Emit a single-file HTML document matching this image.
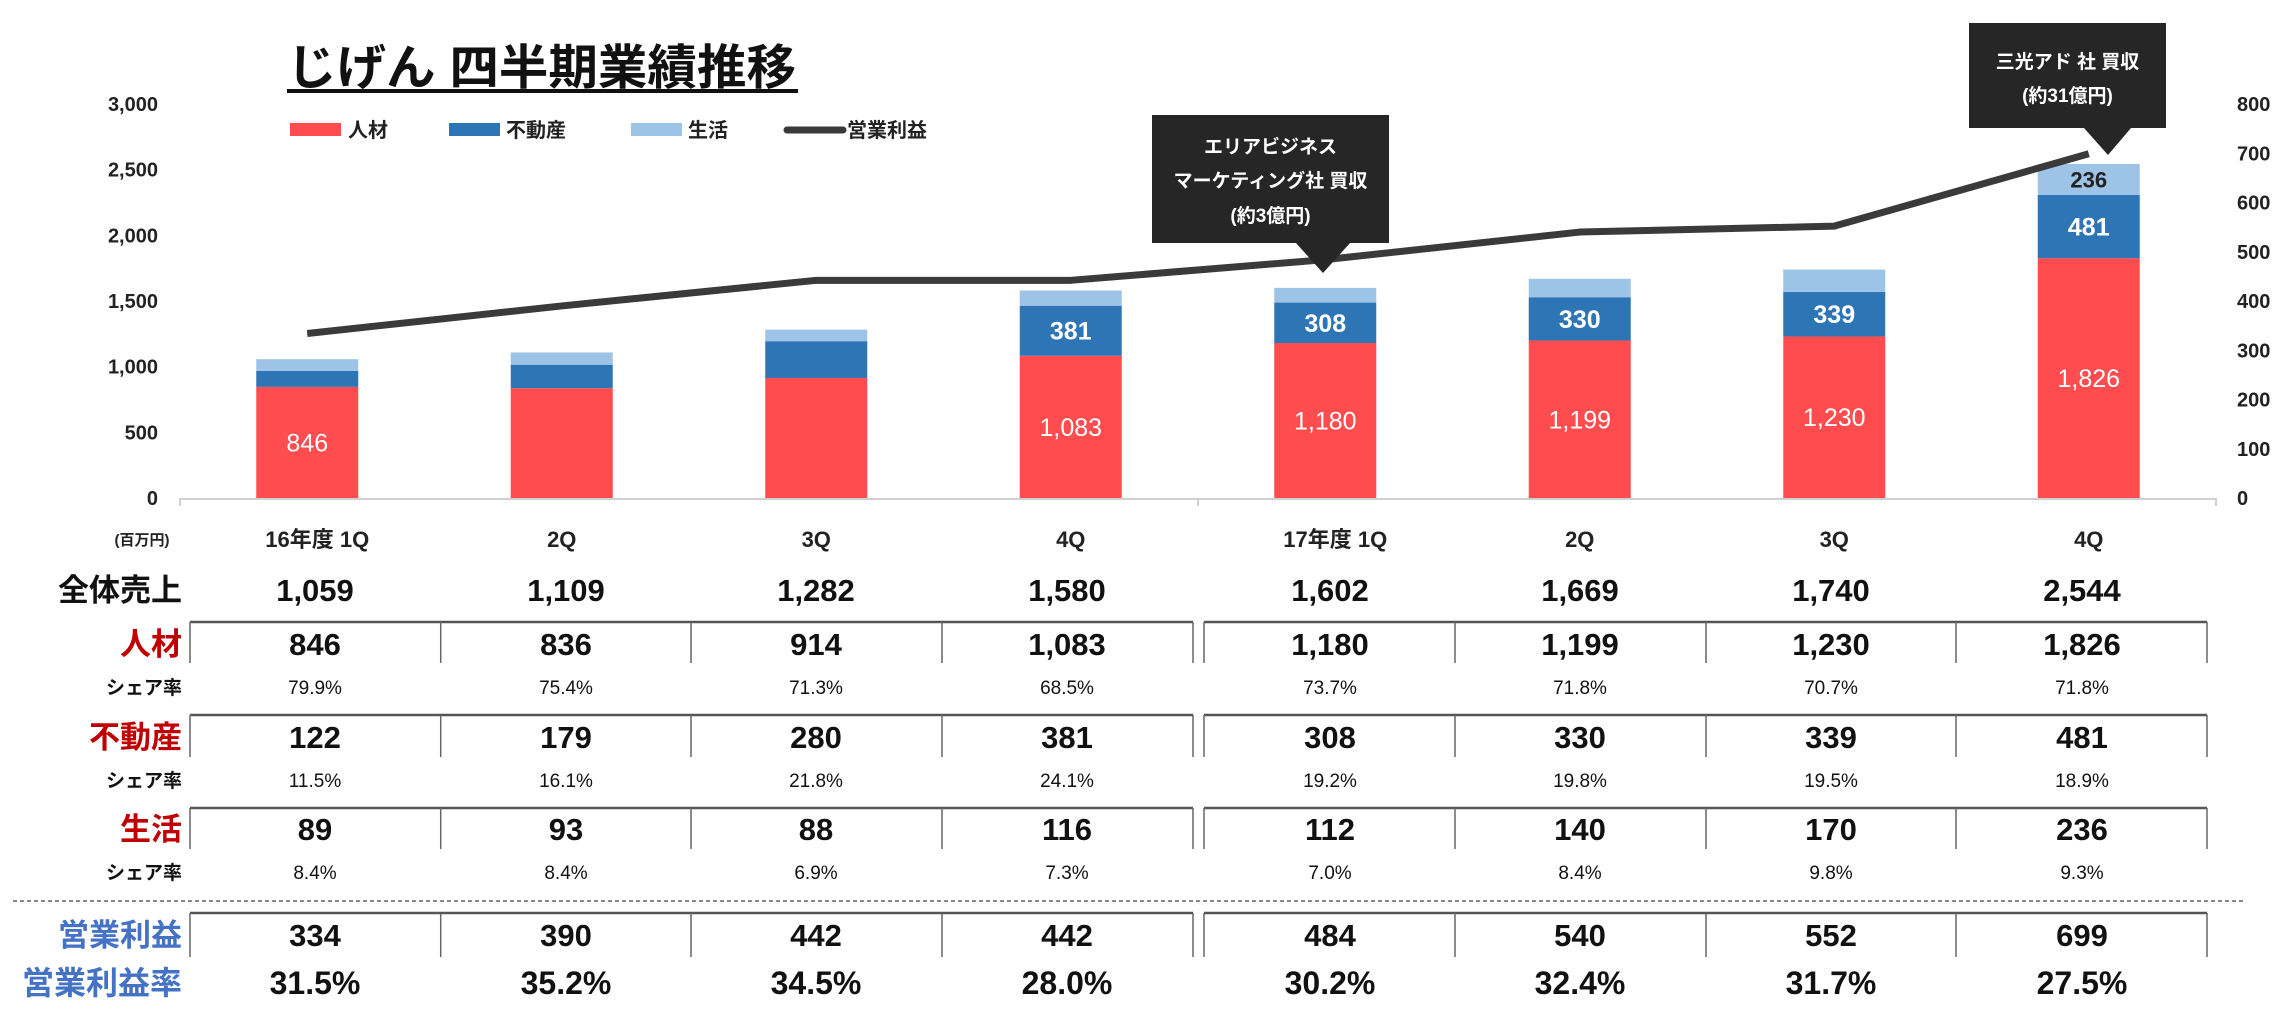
<!DOCTYPE html>
<html><head><meta charset="utf-8"><style>
body{margin:0;background:#fff;}
svg{display:block;font-family:"Liberation Sans","Noto Sans CJK JP",sans-serif;}
</style></head><body>
<svg id="chart" width="2294" height="1024" viewBox="0 0 2294 1024" xmlns="http://www.w3.org/2000/svg"></svg>
<script>
const categories = ["16年度 1Q","2Q","3Q","4Q","17年度 1Q","2Q","3Q","4Q"];
const jinzai = [846,836,914,1083,1180,1199,1230,1826];
const fudosan = [122,179,280,381,308,330,339,481];
const seikatsu = [89,93,88,116,112,140,170,236];
const profit = [334,390,442,442,484,540,552,699];
const totalSales = ["1,059","1,109","1,282","1,580","1,602","1,669","1,740","2,544"];
const jinzaiShare = ["79.9%","75.4%","71.3%","68.5%","73.7%","71.8%","70.7%","71.8%"];
const fudosanShare = ["11.5%","16.1%","21.8%","24.1%","19.2%","19.8%","19.5%","18.9%"];
const seikatsuShare = ["8.4%","8.4%","6.9%","7.3%","7.0%","8.4%","9.8%","9.3%"];
const profitRate = ["31.5%","35.2%","34.5%","28.0%","30.2%","32.4%","31.7%","27.5%"];
const leftTicks = [0,500,1000,1500,2000,2500,3000];
const rightTicks = [0,100,200,300,400,500,600,700,800];
const showRedLabel = [true,false,false,true,true,true,true,true];
const showBlueLabel = [false,false,false,true,true,true,true,true];
const showLightLabel = [false,false,false,false,false,false,false,true];

const svg = document.getElementById('chart');
const NS = 'http://www.w3.org/2000/svg';
function mk(tag, attrs, text){const e=document.createElementNS(NS,tag);for(const k in attrs)e.setAttribute(k,attrs[k]);if(text!==undefined)e.textContent=text;svg.appendChild(e);return e;}
const fmt = v => v.toLocaleString('en-US');

const Y0=498, YTOP=104, AX0=180, AX1=2216;
const yL = v => Y0 - v/3000*(Y0-YTOP);
const yR = v => Y0 - v/800*(Y0-YTOP);
const step = (AX1-AX0)/categories.length;
const xC = i => AX0 + step*(i+0.5);
const BW = 102;

// title
let t = mk('text',{x:287,y:84,'font-size':48,'font-weight':'bold',fill:'#111',textLength:509,lengthAdjust:'spacingAndGlyphs'},'じげん 四半期業績推移');


let u = mk('rect',{x:287,y:89,width:511,height:4,fill:'#111'});



// axes ticks
leftTicks.forEach(v=>{
  const e=mk('text',{x:158,y:yL(v)+7,'text-anchor':'end','font-size':20,'font-weight':'bold',fill:'#222'},fmt(v));
  
  
});
rightTicks.forEach(v=>{
  const e=mk('text',{x:2237,y:yR(v)+7,'font-size':20,'font-weight':'bold',fill:'#222'},fmt(v));
  
  
});
let ax = mk('line',{x1:AX0,y1:Y0+1,x2:AX1,y2:Y0+1,stroke:'#d0d0d0','stroke-width':2});


[0,4,8].forEach(k=>{
  const e=mk('line',{x1:AX0+step*k,y1:Y0,x2:AX0+step*k,y2:Y0+8,stroke:'#d0d0d0','stroke-width':2});
  
  
});
let unit = mk('text',{x:142,y:545,'text-anchor':'middle','font-size':15,'font-weight':'bold',fill:'#222'},'(百万円)');



// bars
categories.forEach((c,i)=>{
  const x=xC(i)-BW/2;
  const y1=yL(jinzai[i]), y2=yL(jinzai[i]+fudosan[i]), y3=yL(jinzai[i]+fudosan[i]+seikatsu[i]);
  let r=mk('rect',{x:x,y:y1,width:BW,height:Y0-y1,fill:'#FF4D4F'});
  
  
  r=mk('rect',{x:x,y:y2,width:BW,height:y1-y2,fill:'#2E75B6'});
  
  
  r=mk('rect',{x:x,y:y3,width:BW,height:y2-y3,fill:'#9DC3E6'});
  
  
  if(showRedLabel[i]){const e=mk('text',{x:xC(i),y:(Y0+y1)/2+9,'text-anchor':'middle','font-size':25,fill:'#fff'},fmt(jinzai[i]));
    
    }
  if(showBlueLabel[i]){const e=mk('text',{x:xC(i),y:(y1+y2)/2+9,'text-anchor':'middle','font-size':25,'font-weight':'bold',fill:'#fff'},fmt(fudosan[i]));
    
    }
  if(showLightLabel[i]){const e=mk('text',{x:xC(i),y:(y2+y3)/2+8,'text-anchor':'middle','font-size':22,'font-weight':'bold',fill:'#222'},fmt(seikatsu[i]));
    
    }
  const cl=mk('text',{x:xC(i)+(c.length>3?10:0),y:547,'text-anchor':'middle','font-size':22,'font-weight':'bold',fill:'#222'},c);
  
  
});

// profit line
let pts = profit.map((v,i)=>xC(i)+','+yR(v)).join(' ');
let pl = mk('polyline',{points:pts,fill:'none',stroke:'#3a3a3a','stroke-width':7,'stroke-linejoin':'round'});



// legend
const legend=[['rect','#FF4D4F','人材',290,348],['rect','#2E75B6','不動産',449,506],['rect','#9DC3E6','生活',631,688],['line','#3a3a3a','営業利益',787,847]];
legend.forEach(l=>{
  let s;
  if(l[0]==='rect'){s=mk('rect',{x:l[3],y:123,width:51,height:13,fill:l[1]});}
  else{s=mk('line',{x1:l[3],y1:130,x2:l[3]+56,y2:130,stroke:l[1],'stroke-width':7,'stroke-linecap':'round'});}
  
  
  const e=mk('text',{x:l[4],y:137,'font-size':20,'font-weight':'bold',fill:'#222'},l[2]);
  
  
});

// callouts
function callout(x,y,w,h,tipX,tipY,baseL,baseR,lines,name){
  const g=mk('path',{d:`M${x},${y}h${w}v${h}H${baseR}L${tipX},${tipY}L${baseL},${y+h}H${x}Z`,fill:'#262626'});
  
  
  lines.forEach(l=>{
    const e=mk('text',{x:x+w/2,y:l[1],'text-anchor':'middle','font-size':19,'font-weight':'bold',fill:'#fff'},l[0]);
    
    
  });
}
callout(1152,115,237,128,1323,273,1296,1350,[['エリアビジネス',153],['マーケティング社 買収',187],['(約3億円)',222]],'callout-area-business');
callout(1969,23,197,105,2108,155,2084,2131,[['三光アド 社 買収',68],['(約31億円)',102]],'callout-sanko-ad');

// table
const colL=[190,440.7,691,942,1193], colR=[1204,1455,1706,1956,2207];
const colCenters=[315,566,816,1067,1330,1580,1831,2082];
function rowText(arr,y,size,name,weight){
  arr.forEach((v,i)=>{const e=mk('text',{x:colCenters[i],y:y,'text-anchor':'middle','font-size':size,'font-weight':weight||'normal',fill:'#111'},v);
    
    });
}
function label(txt,y,size,color,name){
  const e=mk('text',{x:182,y:y,'text-anchor':'end','font-size':size,'font-weight':'bold',fill:color},txt);
  
  
}
function box(top,bot){
  [colL,colR].forEach(cols=>{
    let h=mk('line',{x1:cols[0],y1:top,x2:cols[4],y2:top,stroke:'#555','stroke-width':2.5});
    
    
    cols.forEach(cx=>{const v=mk('line',{x1:cx,y1:top,x2:cx,y2:bot,stroke:'#666','stroke-width':1.5});
      
      });
  });
}
label('全体売上',601,31,'#111','row-label-total');
rowText(totalSales,601,31,'total-sales-value','bold');
box(622,663);
label('人材',655,31,'#C00000','row-label-jinzai');
rowText(jinzai.map(fmt),655,31,'jinzai-value','bold');
label('シェア率',694,19,'#111','row-label-share');
rowText(jinzaiShare,694,19,'jinzai-share-value');
box(715,757);
label('不動産',748,31,'#C00000','row-label-fudosan');
rowText(fudosan.map(fmt),748,31,'fudosan-value','bold');
label('シェア率',787,19,'#111','row-label-share');
rowText(fudosanShare,787,19,'fudosan-share-value');
box(808,849);
label('生活',840,31,'#C00000','row-label-seikatsu');
rowText(seikatsu.map(fmt),840,31,'seikatsu-value','bold');
label('シェア率',879,19,'#111','row-label-share');
rowText(seikatsuShare,879,19,'seikatsu-share-value');
let dl=mk('line',{x1:13,y1:901,x2:2246,y2:901,stroke:'#888','stroke-width':2,'stroke-dasharray':'4,3'});


box(913,957);
label('営業利益',946,31,'#4472C4','row-label-profit');
rowText(profit.map(fmt),946,31,'profit-value','bold');
label('営業利益率',994,32,'#4472C4','row-label-profit-rate');
rowText(profitRate,994,32,'profit-rate-value','bold');
</script>
</body></html>
